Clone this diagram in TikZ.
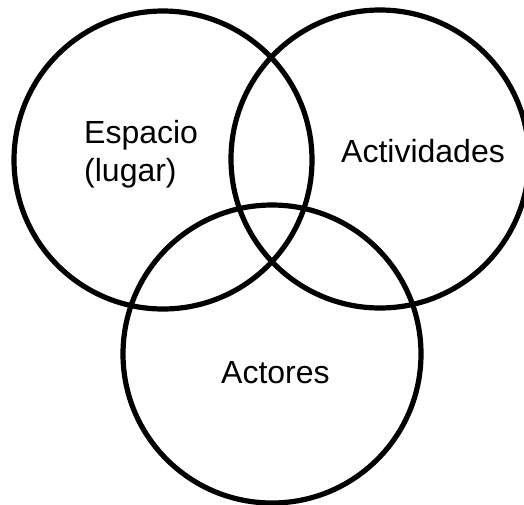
\documentclass[tikz,border=0pt]{standalone}
\usepackage{fontspec}
\setmainfont{Liberation Sans}
\begin{document}
\begin{tikzpicture}[x=1pt,y=-1pt,
  ring/.style={circle,draw=black,line width=5.2pt,inner sep=0pt,minimum size=298pt},
  lbl/.style={font=\fontsize{32}{38}\selectfont,inner sep=0pt,anchor=base west,align=left}]
\useasboundingbox (0,0) rectangle (524,504);
\clip (0,0) rectangle (524,504);
\fill[white] (0,0) rectangle (524,504);
\node[ring] (esp) at (163,160) {};
\node[ring] (act) at (380,159) {};
\node[ring] (aco) at (272,354) {};
\node[lbl] (tesp) at (84,181) {Espacio\\(lugar)};
\node[lbl] (tact) at (341,162) {Actividades};
\node[lbl] (taco) at (221,383) {Actores};
\end{tikzpicture}
\end{document}
